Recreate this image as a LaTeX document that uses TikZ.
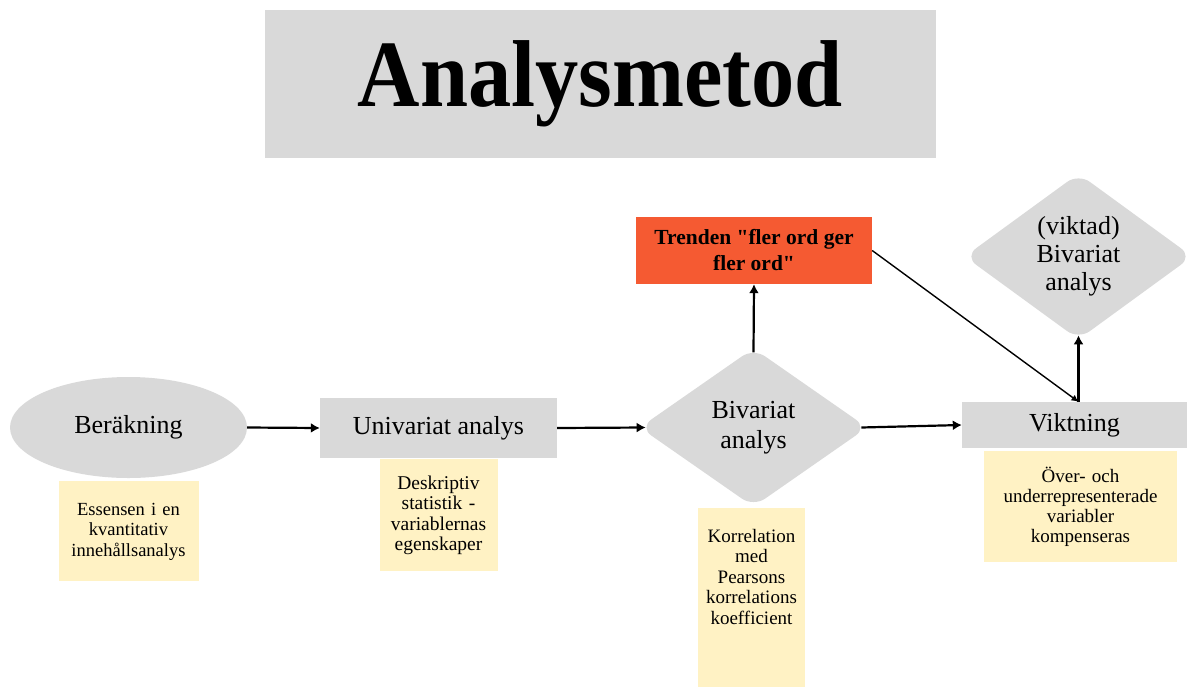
\documentclass[tikz,border=0pt]{standalone}
\usepackage{fontspec}
\setmainfont[Ligatures=TeXOff]{Liberation Serif}
\newfontfamily\titlefont[FakeStretch=0.91]{Liberation Serif}
\usepackage{xcolor}
\definecolor{boxgray}{RGB}{217,217,217}
\definecolor{trendorange}{RGB}{245,90,50}
\definecolor{noteyellow}{RGB}{255,242,196}
\usetikzlibrary{positioning, calc, shapes.geometric, arrows.meta}
\tikzstyle{Arrow} = [
line width=2.2pt,
-{Latex[length=9pt, width=10pt]}]
\tikzstyle{ArrowThin} = [
line width=1.4pt,
-{Latex[length=7pt, width=7pt]}]
\tikzstyle{Box} = [rectangle, fill=boxgray, inner sep=0pt,
        font=\fontsize{26}{30}\selectfont]
\tikzstyle{Oval} = [ellipse, fill=boxgray, inner sep=0pt,
        font=\fontsize{26}{30}\selectfont]
\tikzstyle{Rhomb} = [diamond, fill=boxgray, rounded corners=14pt,
        minimum width=224pt, minimum height=156pt, inner sep=0pt,
        outer xsep=-4.2pt, outer ysep=-2.9pt, align=center]
\tikzstyle{Note} = [rectangle, fill=noteyellow, inner sep=0pt,
        font=\fontsize{19}{20.5}\selectfont]

\begin{document}
\begin{tikzpicture}[x=1pt, y=-1pt]
    \useasboundingbox (0,0) rectangle (1187,686);
    \node [fill=boxgray, minimum width=671pt, minimum height=148pt, inner sep=0pt,
        font=\titlefont\bfseries\fontsize{95}{95}\selectfont] (0) at (600.5,84) {\raisebox{2pt}{Analysmetod}};

    \node [Oval, minimum width=237pt, minimum height=101pt] (1) at (128.5,427.5) {Beräkning};
    \node [Box, minimum width=237pt, minimum height=60pt] (2) at (438.5,428) {Univariat analys};
    \node [Rhomb, font=\fontsize{26}{30}\selectfont] (3) at (753.5,427.5) {Bivariat\\analys};
    \node [Box, fill=trendorange, minimum width=236pt, minimum height=67pt, align=center,
        font=\bfseries\fontsize{21.5}{26}\selectfont] (4) at (754,250.5) {Trenden "fler ord ger\\fler ord"};
    \node [Rhomb, font=\fontsize{26}{28}\selectfont] (5) at (1078.5,256.5) {(viktad)\\Bivariat\\analys};
    \node [Box, minimum width=225pt, minimum height=46pt] (6) at (1074.5,425) {Viktning};

    % notes under the steps
    \node [Note, text width=140pt, minimum height=100pt, align=center,
        font=\fontsize{18.5}{20.5}\selectfont, below=3pt of 1] (7)
        {Essensen i en\\kvantitativ\\innehållsanalys};
    \node [Note, text width=118pt, minimum height=112pt, align=center,
        font=\fontsize{19.5}{20.2}\selectfont, below=1pt of 2] (8)
        {Deskriptiv\\statistik -\\variablernas\\egenskaper};
    \node [Note, below=5pt of 3, xshift=-2pt] (9)
        {\parbox[t][180pt][t]{107pt}{\centering\vspace*{21.5pt}Korrelation\\med\\Pearsons\\korrelations\\koefficient}};
    \node [Note, text width=193pt, minimum height=111pt, align=center,
        font=\fontsize{19}{20}\selectfont, below=3pt of 6, xshift=6pt] (10)
        {Över- och\\underrepresenterade\\variabler\\kompenseras};

    \draw[Arrow] (1.east)--(2.west);
    \draw[Arrow] (2.east)--(3.west);
    \draw[Arrow] (3.east)--(6.west);
    \draw[Arrow] (3.north)--(4.south);
    \draw[Arrow] (5.south |- 6.north)--(5.south);
    \draw[ArrowThin] (4.east)--(5.south |- 6.north);
\end{tikzpicture}
\end{document}
